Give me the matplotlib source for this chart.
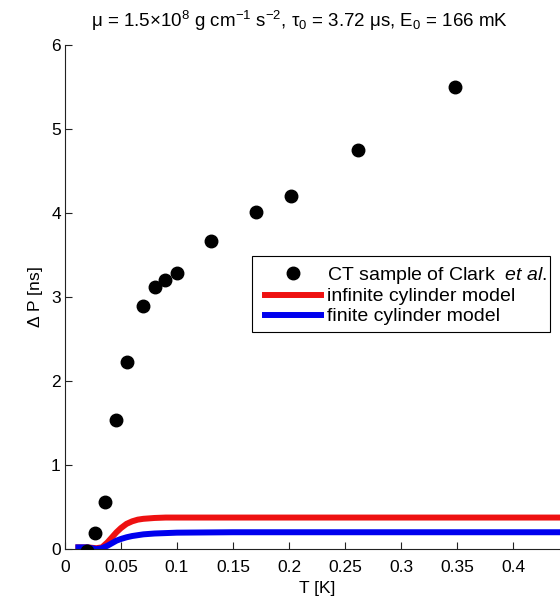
import numpy as np
import matplotlib
matplotlib.use("Agg")
import matplotlib.pyplot as plt
from matplotlib.patches import Rectangle


# ----------------------------------------------------
# Data
# ----------------------------------------------------

# CT sample of Clark et al.
ct_T = [0.020, 0.027, 0.036, 0.046, 0.055, 0.070, 0.080, 0.089,
        0.100, 0.130, 0.171, 0.202, 0.262, 0.348]
ct_dP = [-0.02, 0.19, 0.56, 1.54, 2.23, 2.89, 3.12, 3.21,
         3.29, 3.67, 4.02, 4.21, 4.75, 5.50]

# model curves
model_T = [0.012, 0.020, 0.028, 0.033, 0.038, 0.042, 0.046, 0.050,
           0.055, 0.060, 0.065, 0.070, 0.080, 0.090, 0.100, 0.150,
           0.200, 0.300, 0.400, 0.450]
infinite_dP = [0.02, 0.02, 0.01, 0.02, 0.08, 0.14, 0.20, 0.25,
               0.30, 0.33, 0.35, 0.36, 0.37, 0.375, 0.375, 0.375,
               0.375, 0.375, 0.375, 0.375]
finite_dP = [0.02, 0.02, 0.00, 0.01, 0.04, 0.07, 0.10, 0.12,
             0.14, 0.155, 0.165, 0.175, 0.185, 0.19, 0.195, 0.20,
             0.20, 0.20, 0.20, 0.20]

x_ticks = [0, 0.05, 0.1, 0.15, 0.2, 0.25, 0.3, 0.35, 0.4]
x_tick_labels = ["0", "0.05", "0.1", "0.15", "0.2", "0.25", "0.3", "0.35", "0.4"]
y_ticks = [0, 1, 2, 3, 4, 5, 6]


# ----------------------------------------------------
# Style
# ----------------------------------------------------

plt.rcParams["font.family"] = ["Liberation Sans", "DejaVu Sans"]
plt.rcParams["font.size"] = 12.5
plt.rcParams["mathtext.fontset"] = "custom"
plt.rcParams["mathtext.rm"] = "Liberation Sans"
plt.rcParams["mathtext.it"] = "Liberation Sans:italic"
plt.rcParams["mathtext.default"] = "regular"


# ----------------------------------------------------
# Figure
# ----------------------------------------------------

fig = plt.figure(figsize=(5.6, 6.04), dpi=100)
ax = fig.add_axes([0.116, 0.091, 0.9, 0.834])

ax.plot(ct_T, ct_dP, "o", color="black", markersize=9,
        label=r"CT sample of Clark  $\mathit{et\ al.}$", zorder=3)
ax.plot(model_T, infinite_dP, "-", color="#ee1111", linewidth=4.3,
        label="infinite cylinder model")
ax.plot(model_T, finite_dP, "-", color="#0000ee", linewidth=4.3,
        label="finite cylinder model")

ax.set_xlim(0, 0.45)
ax.set_ylim(0, 6)
ax.set_xticks(x_ticks)
ax.set_xticklabels(x_tick_labels)
ax.set_yticks(y_ticks)

ax.tick_params(direction="in", length=5, width=0.8, colors="#222222",
               labelcolor="black", pad=3, labelsize=12.5)
ax.tick_params(axis="x", pad=8)
ax.spines["top"].set_visible(False)
ax.spines["right"].set_visible(False)
for side in ["left", "bottom"]:
    ax.spines[side].set_color("#222222")
    ax.spines[side].set_linewidth(0.8)

ax.set_xlabel("T [K]", labelpad=4)
ax.set_ylabel(r"$\Delta$ P [ns]", labelpad=4)
ax.set_title(r"$\mu$ = 1.5$\times$10$^{8}$ g cm$^{-1}$ s$^{-2}$, "
             r"$\tau_{0}$ = 3.72 $\mu$s, E$_{0}$ = 166 mK",
             fontsize=13.5, pad=13, x=0.465)

# legend text and handles without frame, box drawn as a rectangle
leg = fig.legend(loc="upper left", bbox_to_anchor=(0.473, 0.562),
                 frameon=False, handlelength=2.9, handletextpad=0.3,
                 borderpad=0, labelspacing=0.12, borderaxespad=0,
                 fontsize=14)
fig.patches.append(Rectangle((0.45, 0.450), 0.532, 0.126,
                             transform=fig.transFigure, fill=True,
                             facecolor="white", edgecolor="black",
                             linewidth=0.8, zorder=4))
leg.set_zorder(5)

fig.savefig("out.png", dpi=100)
plt.close(fig)
